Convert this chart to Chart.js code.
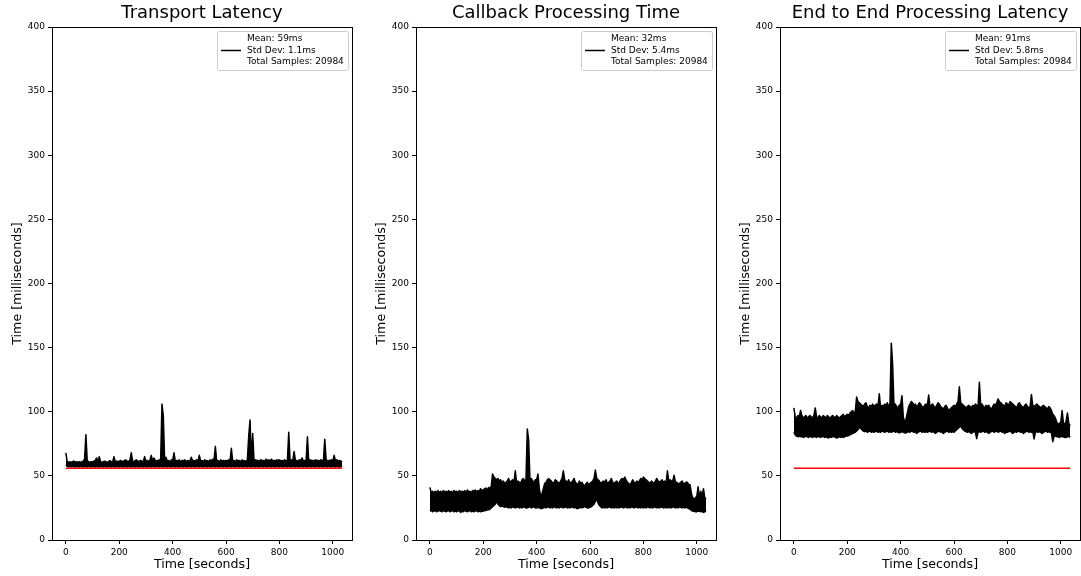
<!DOCTYPE html>
<html>
<head>
<meta charset="utf-8">
<script src="https://cdn.jsdelivr.net/npm/chart.js@4"></script>
<style>
    body { margin: 0; background: #fff; }
    #wrap { position: relative; width: 1081px; height: 576px; overflow: hidden; }
    #wrap canvas { position: absolute; top: 0; }
</style>
</head>
<body>
<div id="wrap">
    <canvas id="chart-transport" width="364" height="576" style="left:0"></canvas>
    <canvas id="chart-callback"  width="364" height="576" style="left:364px"></canvas>
    <canvas id="chart-e2e"       width="364" height="576" style="left:728px"></canvas>
</div>
<script>
// ================================================================
// DATA: min / max of the samples in every 5 s bucket (ms)
// ================================================================
const SAMPLE_STEP = 5;
const xTicks = [0, 200, 400, 600, 800, 1000];
const yTicks = [0, 50, 100, 150, 200, 250, 300, 350, 400];
const thresholdMs = 56;

const titles = ['Transport Latency', 'Callback Processing Time', 'End to End Processing Latency'];

const transportHigh = [
    68, 61, 60.5, 61, 60.5, 61, 61.5, 60.5, 61, 60.5, 61, 60.5, 61, 61.5, 63, 82, 62, 61, 60.5, 61,
    61, 61.5, 62, 64, 61, 65, 61, 60.5, 61, 61.5, 61, 60.5, 61, 62, 61, 60.5, 65, 61, 61.5, 61,
    61.5, 62, 61, 61.5, 62, 62.5, 61, 61.5, 62, 68, 61.5, 61, 62, 62.5, 61, 61.5, 62, 61.5, 61, 65,
    61.5, 62, 61, 62.5, 66, 61.5, 64, 62, 61.5, 62, 62.5, 61.5, 106, 97, 62, 64.5, 61.5, 62, 61, 62.5,
    62, 68, 61.5, 62, 61.5, 62.5, 61, 62, 61.5, 62.5, 61, 62, 61.5, 62, 64.5, 61.5, 62, 61.5, 62.5, 61.5,
    66, 61.5, 62, 61, 62.5, 61.5, 62, 61, 62.5, 61.5, 63, 62, 73, 61.5, 62, 61, 62.5, 61.5, 62, 61.5,
    62, 61.5, 62.5, 61.5, 71.5, 61.5, 62, 61, 62.5, 61.5, 62, 61, 62.5, 61.5, 62, 61, 62.5, 81, 93.6, 62,
    83, 61.5, 62.5, 62, 62, 61.5, 62.5, 62, 62, 61.5, 63, 62, 62.5, 61.5, 63, 62, 62, 61.5, 62.5, 62,
    62.5, 61.5, 62, 61.5, 62.5, 61.5, 62, 84, 62, 62.5, 61.5, 69, 62, 62, 61.5, 62.5, 62, 64, 61.5, 62,
    62, 80.5, 61.5, 62.5, 62, 62, 61.5, 62.5, 62, 62, 61.5, 62.5, 62, 62, 78.5, 63, 61.5, 62, 62, 62.5,
    61.5, 66, 62, 62.5, 61.5, 62, 61.5, 61
];
const transportLow = [
    58.5, 57.5, 57, 57.5, 57, 57.5, 57, 57, 57.5, 57, 57, 57.5, 57, 57, 57.5, 57, 57, 57.5, 57, 57,
    57.5, 57, 57, 57.5, 57, 57, 57.5, 57, 57, 57.5, 57, 57, 57.5, 57, 57, 57.5, 57, 57, 57.5, 57,
    57, 57.5, 57, 57, 57.5, 57, 57, 57.5, 57, 57, 57.5, 57, 57, 57.5, 57, 57, 57.5, 57, 57, 57.5,
    57, 57, 57.5, 57, 57, 57.5, 57, 57, 57.5, 57, 57, 57.5, 57, 57, 57.5, 57, 57, 57.5, 57, 57,
    57.5, 57, 57, 57.5, 57, 57, 57.5, 57, 57, 57.5, 57, 57, 57.5, 57, 57, 57.5, 57, 57, 57.5, 57,
    57, 57.5, 57, 57, 57.5, 57, 57, 57.5, 57, 57, 57.5, 57, 57, 57.5, 57, 57, 57.5, 57, 57, 57.5,
    57, 57, 57.5, 57, 57, 57.5, 57, 57, 57.5, 57, 57, 57.5, 57, 57, 57.5, 57, 57, 57.5, 57, 57,
    57.5, 57, 57, 57.5, 57, 57, 57.5, 57, 57, 57.5, 57, 57, 57.5, 57, 57, 57.5, 57, 57, 57.5, 57,
    57, 57.5, 57, 57, 57.5, 57, 57, 57.5, 57, 57, 57.5, 57, 57, 57.5, 57, 57, 57.5, 57, 57, 57.5,
    57, 57, 57.5, 57, 57, 57.5, 57, 57, 57.5, 57, 57, 57.5, 57, 57, 57.5, 57, 57, 57.5, 57, 57,
    57.5, 57, 57, 57.5, 57, 57, 57.5, 57
];

const callbackHigh = [
    41, 37, 38, 36.5, 38, 37, 38.5, 37, 38, 36.5, 38.5, 37.5, 38, 37, 38.5, 37, 38, 36.5, 38.5, 37.5,
    38, 37, 38.5, 37.5, 38, 37, 38.5, 37, 39, 37.5, 38, 37, 38.5, 38, 39, 37.5, 38.5, 38, 40, 38.5,
    39, 40, 40.5, 39, 41, 40, 42, 51.5, 49, 48, 47, 48, 46, 47, 45, 46, 44, 45, 46, 48,
    45, 46, 47, 45, 54, 44, 46, 45, 44, 47, 48, 46, 47, 86.5, 78, 47, 48, 46, 45, 47,
    47, 51.5, 40, 34, 36, 40, 44, 45, 47, 48, 47, 46, 44, 45, 47, 46, 45, 44, 46, 48,
    54, 47, 46, 45, 47, 44, 45, 46, 48, 45, 44, 43, 46, 44, 45, 43, 42, 44, 45, 43,
    44, 45, 46, 48, 54.5, 48, 47, 46, 44, 45, 46, 45, 47, 44, 45, 46, 48, 45, 44, 45,
    46, 44, 45, 47, 48, 47, 49, 47, 45, 44, 43, 45, 47, 45, 44, 46, 45, 46, 48, 47,
    49, 48, 47, 46, 45, 44, 46, 45, 44, 46, 48, 46, 45, 46, 47, 45, 46, 44, 54, 46,
    47, 46, 46, 50.5, 45, 45, 44, 44, 45, 46, 44, 44, 45, 45, 43, 43, 36, 33, 32, 33,
    34, 41.5, 33, 38, 34, 40, 33, 32
];
const callbackLow = [
    22.5, 23, 22, 22.5, 23, 22, 22.5, 23, 22.5, 22, 23, 22.5, 22, 22.5, 23, 22, 22.5, 23, 22, 22.5,
    22, 22.5, 23, 21.5, 22.5, 22, 23, 22.5, 22, 22.5, 23, 22, 22.5, 22, 22.5, 23, 22, 22.5, 22, 22.5,
    22.5, 23, 23, 23.5, 23.5, 24, 25, 26, 27, 28, 30, 28, 27, 26, 26.5, 26, 25.5, 26, 25.5, 25,
    25.5, 25, 26, 25.5, 25, 25.5, 26, 25, 25.5, 25, 26, 25.5, 25, 25, 25.5, 26, 25, 25.5, 26, 25,
    25, 25.5, 25, 24.5, 24.5, 25, 25.5, 25, 26, 25.5, 25, 25.5, 25, 26, 25.5, 25, 25.5, 25, 26, 25.5,
    25, 25.5, 26, 25, 25.5, 25, 26, 25.5, 25, 25.5, 24.5, 24.5, 25, 25.5, 25, 25.5, 26, 25.5, 25, 25,
    25.5, 26, 27, 28, 30, 32, 29, 27, 26, 25, 25.5, 25, 25.5, 25, 26, 25.5, 25, 25.5, 25, 25.5,
    25, 25.5, 25, 26, 25.5, 25, 25.5, 26, 25, 25.5, 25, 26, 25.5, 25, 25.5, 26, 25, 25.5, 25, 25.5,
    25, 25.5, 25, 26, 25.5, 25, 25.5, 25, 26, 25.5, 25, 25.5, 25, 26, 25.5, 25, 25.5, 25, 25.5, 25,
    25.5, 25, 26, 25.5, 25, 25.5, 25, 26, 25.5, 25, 25.5, 25, 25.5, 25, 24.5, 24, 23, 22.5, 22.5, 22,
    22, 22.5, 22.5, 22, 22.5, 21.5, 22, 22.5
];

const endToEndHigh = [
    103, 96, 95, 97, 96, 101, 97, 95, 96, 97, 95, 96, 97, 96, 95, 97, 103, 96, 95, 97,
    96, 95, 97, 96, 95, 97, 96, 95, 96, 97, 96, 95, 97, 96, 95, 96, 97, 98, 96, 97,
    98, 97, 99, 100, 101, 99, 100, 111.5, 108, 107, 106, 105, 104, 106, 107, 104, 103, 105, 104, 106,
    104, 105, 106, 104, 114, 103, 105, 104, 106, 105, 107, 104, 106, 153.5, 137, 105, 106, 104, 103, 105,
    106, 112.5, 96, 92, 94, 99, 104, 106, 108, 107, 105, 106, 104, 105, 107, 106, 104, 103, 105, 106,
    105, 113, 104, 105, 106, 104, 103, 105, 107, 106, 104, 103, 102, 104, 105, 103, 101, 102, 103, 104,
    105, 104, 106, 108, 119.5, 107, 106, 105, 104, 103, 104, 105, 104, 103, 105, 104, 106, 105, 104, 123,
    105, 106, 104, 103, 105, 104, 105, 103, 102, 104, 106, 105, 107, 110, 108, 107, 106, 105, 104, 107,
    106, 105, 108, 107, 106, 105, 104, 103, 106, 107, 105, 104, 103, 105, 106, 104, 103, 104, 113.5, 105,
    104, 105, 106, 105, 104, 103, 104, 105, 104, 103, 102, 104, 103, 101, 98, 97, 95, 92, 90, 91,
    92, 101, 91, 90, 93, 99, 91, 89
];
const endToEndLow = [
    84, 82, 81, 80.5, 81, 80.5, 81, 80, 80.5, 81, 80.5, 80, 81, 80.5, 80, 81, 80.5, 80, 81, 80.5,
    80, 80.5, 81, 80, 80.5, 80, 79.5, 80.5, 80, 80.5, 81, 80, 79.5, 80, 80.5, 80, 80.5, 80, 80.5, 81,
    81, 81.5, 82, 82.5, 83, 83.5, 84, 85, 86, 88, 87, 86, 85, 84.5, 85, 84, 84.5, 85, 84, 84.5,
    84, 84.5, 85, 84, 84.5, 84, 85, 84.5, 84, 84.5, 85, 84, 84.5, 84, 84.5, 85, 84, 84.5, 84, 83.5,
    84, 84.5, 84, 83.5, 83.5, 84, 84.5, 84, 85, 84.5, 84, 84.5, 83, 84, 84.5, 85, 84, 84.5, 84, 84.5,
    84, 84.5, 85, 84, 84.5, 84, 83, 84, 84.5, 85, 84, 84.5, 83, 84, 84.5, 85, 84, 84.5, 84, 84.5,
    84, 85, 86, 87, 88, 89, 87, 86, 85, 84.5, 84, 84.5, 84, 83, 84, 84.5, 84, 79, 84, 84.5,
    84, 84.5, 85, 84, 84.5, 84, 83, 84, 84.5, 85, 84, 84.5, 85, 84, 84.5, 85, 84, 84.5, 83, 84,
    84, 84.5, 85, 84, 83, 84, 84.5, 84, 85, 84.5, 84, 84.5, 83, 84, 84.5, 85, 84, 84.5, 84, 84.5,
    78.8, 84, 84.5, 84, 84.5, 84, 83, 84, 84.5, 85, 84, 84.5, 84, 83.5, 76.7, 81, 81, 80.5, 80.5, 80,
    81, 80.5, 80.5, 80, 80, 80.5, 81, 80
];

const legendTexts = [
    ['Mean: 59ms', 'Std Dev: 1.1ms', 'Total Samples: 20984'],
    ['Mean: 32ms', 'Std Dev: 5.4ms', 'Total Samples: 20984'],
    ['Mean: 91ms', 'Std Dev: 5.8ms', 'Total Samples: 20984']
];

// ================================================================
// PLUGINS
// ================================================================
const FONT = '"DejaVu Sans", sans-serif';

// box around the axes (all four spines)
const frameBox = {
    id: 'frameBox',
    afterDraw(chart) {
        const { ctx, chartArea: a } = chart;
        ctx.save();
        ctx.strokeStyle = '#000';
        ctx.lineWidth = 1;
        ctx.strokeRect(Math.round(a.left) + 0.5, Math.round(a.top) + 0.5,
            Math.round(a.right - a.left), Math.round(a.bottom - a.top));
        ctx.restore();
    }
};

// stats legend in the upper right corner of the axes
const statsLegend = {
    id: 'statsLegend',
    afterDatasetsDraw(chart, args, opts) {
        const { ctx, chartArea: a } = chart;
        const lines = opts.lines || [];
        ctx.save();
        ctx.font = '9px ' + FONT;
        const textW = Math.max(...lines.map(l => ctx.measureText(l).width));
        const w = Math.round(30 + textW + 4), h = 39;
        const x = Math.round(a.right - 4 - w), y = Math.round(a.top + 4);
        ctx.fillStyle = 'rgba(255,255,255,0.8)';
        ctx.strokeStyle = '#cccccc';
        ctx.lineWidth = 1;
        ctx.beginPath();
        ctx.roundRect(x + 0.5, y + 0.5, w, h, 2);
        ctx.fill(); ctx.stroke();
        ctx.strokeStyle = '#000';
        ctx.lineWidth = 1.5;
        ctx.beginPath(); ctx.moveTo(x + 4, y + 19.5); ctx.lineTo(x + 24, y + 19.5); ctx.stroke();
        ctx.fillStyle = '#000';
        ctx.textBaseline = 'middle';
        lines.forEach((l, i) => ctx.fillText(l, x + 30, y + 8 + i * 11.5));
        ctx.restore();
    }
};

// ================================================================
// CHARTS
// ================================================================
function toPoints(values) {
    return values.map((v, i) => ({ x: i * SAMPLE_STEP, y: v }));
}

function makeChart(canvasId, title, low, high, legendLines, showThreshold) {
    const lastT = (high.length - 1) * SAMPLE_STEP;
    const band = { borderColor: '#000', borderWidth: 1.5, pointRadius: 0, tension: 0,
        borderJoinStyle: 'round', order: 1 };
    const datasets = [
        { ...band, data: toPoints(low), fill: false },
        { ...band, data: toPoints(high), fill: '-1', backgroundColor: '#000' }
    ];
    if (showThreshold) {
        datasets.push({ data: [{ x: 0, y: thresholdMs }, { x: lastT, y: thresholdMs }],
            borderColor: '#ff0000', borderWidth: 1.5, pointRadius: 0, fill: false, order: 0 });
    }

    const tickFont = { family: FONT, size: 9 };
    const labelFont = { family: FONT, size: 12.6 };

    return new Chart(document.getElementById(canvasId), {
        type: 'line',
        data: { datasets },
        plugins: [frameBox, statsLegend],
        options: {
            responsive: false,
            animation: false,
            layout: { padding: { left: 0, right: 12, top: 0, bottom: 0 } },
            scales: {
                x: {
                    type: 'linear', min: -52, max: 1072,
                    afterBuildTicks: s => { s.ticks = xTicks.map(v => ({ value: v })); },
                    afterFit: s => { s.height = 36; },
                    ticks: { color: '#000', font: tickFont, padding: 3, maxRotation: 0, callback: v => v },
                    grid: { drawOnChartArea: false, drawTicks: true, tickLength: 4, color: '#000' },
                    border: { display: false },
                    title: { display: true, text: 'Time [seconds]', color: '#000', font: labelFont, padding: { top: 0, bottom: 3.5 } }
                },
                y: {
                    type: 'linear', min: 0, max: 400,
                    afterBuildTicks: s => { s.ticks = yTicks.map(v => ({ value: v })); },
                    afterFit: s => { s.width = 52; },
                    ticks: { color: '#000', font: tickFont, padding: 3, callback: v => v },
                    grid: { drawOnChartArea: false, drawTicks: true, tickLength: 4, color: '#000' },
                    border: { display: false },
                    title: { display: true, text: 'Time [milliseconds]', color: '#000', font: labelFont, padding: { top: 10.5, bottom: 0 } }
                }
            },
            plugins: {
                legend: { display: false },
                tooltip: { enabled: false },
                title: { display: true, text: title, color: '#000', fullSize: false,
                    font: { family: FONT, size: 18, weight: 'normal' }, padding: { top: 3, bottom: 2.4 } },
                statsLegend: { lines: legendLines }
            }
        }
    });
}

makeChart('chart-transport', titles[0], transportLow, transportHigh, legendTexts[0], true);
makeChart('chart-callback',  titles[1], callbackLow,  callbackHigh,  legendTexts[1], false);
makeChart('chart-e2e',       titles[2], endToEndLow,  endToEndHigh,  legendTexts[2], true);
</script>
</body>
</html>
